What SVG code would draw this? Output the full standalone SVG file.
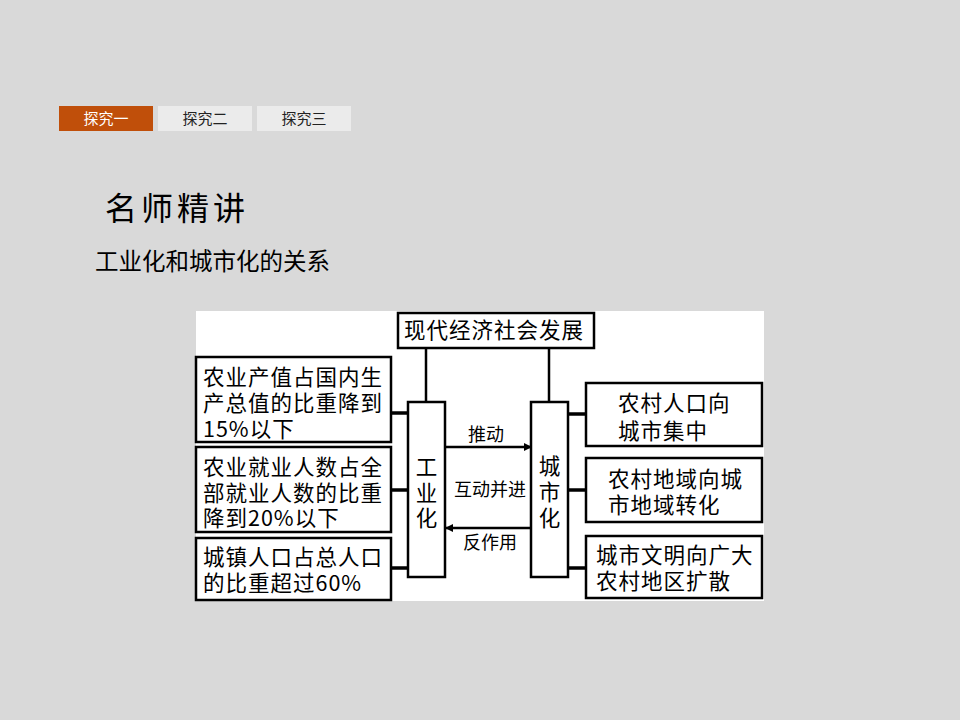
<svg xmlns="http://www.w3.org/2000/svg" width="960" height="720" viewBox="0 0 960 720">
<style>
.t{font-family:"Noto Sans CJK SC","Liberation Sans",sans-serif;fill:#000}
.bx{fill:#fff;stroke:#000;stroke-width:2.5}
.ln{stroke:#000;stroke-width:2.5;fill:none}
.st{stroke:#000;stroke-width:3.5;fill:none}
.tab{font-family:"Noto Sans CJK SC","Liberation Sans",sans-serif;font-size:15px;text-anchor:middle}
.bt{font-size:21.5px;letter-spacing:1px}
.vt{font-size:21.5px;text-anchor:middle}
.at{font-size:18px;text-anchor:middle}
</style>
<defs>
<marker id="ah" viewBox="0 0 10 10" refX="10" refY="5" markerWidth="10" markerHeight="8" markerUnits="userSpaceOnUse" orient="auto">
<path d="M0,0 L10,5 L0,10 Z" fill="#000"/>
</marker>
</defs>
<rect x="0" y="0" width="960" height="720" fill="#D9D9D9"/>
<g id="tabs">
<rect x="59" y="106" width="94" height="25" fill="#C04F0A"/>
<text class="tab" x="106" y="124" fill="#fff">探究一</text>
<rect x="158" y="106" width="94" height="25" fill="#EBEBEB"/>
<text class="tab" x="205" y="124" fill="#222">探究二</text>
<rect x="257" y="106" width="94" height="25" fill="#EBEBEB"/>
<text class="tab" x="304" y="124" fill="#222">探究三</text>
</g>
<text class="t" x="105" y="220" font-size="32" letter-spacing="4">名师精讲</text>
<text class="t" x="95" y="270" font-size="23.5">工业化和城市化的关系</text>
<rect x="196" y="311" width="568" height="290" fill="#fff"/>
<g id="connectors">
<line class="ln" x1="426" y1="348" x2="426" y2="402"/>
<line class="ln" x1="549" y1="348" x2="549" y2="402"/>
<line class="st" x1="391" y1="413" x2="408" y2="413"/>
<line class="st" x1="391" y1="490" x2="408" y2="490"/>
<line class="st" x1="391" y1="568" x2="408" y2="568"/>
<line class="st" x1="568" y1="414" x2="586" y2="414"/>
<line class="st" x1="568" y1="490" x2="586" y2="490"/>
<line class="st" x1="568" y1="568" x2="586" y2="568"/>
<line class="ln" x1="445" y1="447" x2="532" y2="447" stroke-width="2" marker-end="url(#ah)"/>
<line class="ln" x1="531" y1="528" x2="445" y2="528" stroke-width="2" marker-end="url(#ah)"/>
<text class="t at" x="486" y="441">推动</text>
<text class="t at" x="490" y="496">互动并进</text>
<text class="t at" x="490" y="549">反作用</text>
</g>
<g id="top">
<rect class="bx" x="398" y="313" width="196" height="35"/>
<text class="t bt" x="404" y="338">现代经济社会发展</text>
</g>
<g id="left1">
<rect class="bx" x="196" y="357" width="195" height="85"/>
<text class="t bt" x="203" y="385">农业产值占国内生</text>
<text class="t bt" x="203" y="411">产总值的比重降到</text>
<text class="t bt" x="203" y="437">15%以下</text>
</g>
<g id="left2">
<rect class="bx" x="196" y="447" width="195" height="85"/>
<text class="t bt" x="203" y="475">农业就业人数占全</text>
<text class="t bt" x="203" y="501">部就业人数的比重</text>
<text class="t bt" x="203" y="526">降到20%以下</text>
</g>
<g id="left3">
<rect class="bx" x="196" y="538" width="195" height="62"/>
<text class="t bt" x="203" y="565">城镇人口占总人口</text>
<text class="t bt" x="203" y="591">的比重超过60%</text>
</g>
<g id="industrial">
<rect class="bx" x="408" y="402" width="37" height="175"/>
<text class="t vt" x="426.5" y="475">工</text>
<text class="t vt" x="426.5" y="501">业</text>
<text class="t vt" x="426.5" y="526">化</text>
</g>
<g id="urban">
<rect class="bx" x="531" y="402" width="37" height="175"/>
<text class="t vt" x="549.5" y="474">城</text>
<text class="t vt" x="549.5" y="500">市</text>
<text class="t vt" x="549.5" y="526">化</text>
</g>
<g id="right1">
<rect class="bx" x="586" y="383" width="176" height="63"/>
<text class="t bt" x="618" y="411">农村人口向</text>
<text class="t bt" x="618" y="439">城市集中</text>
</g>
<g id="right2">
<rect class="bx" x="586" y="458" width="176" height="64"/>
<text class="t bt" x="608" y="487">农村地域向城</text>
<text class="t bt" x="608" y="513">市地域转化</text>
</g>
<g id="right3">
<rect class="bx" x="586" y="536" width="176" height="62"/>
<text class="t bt" x="596" y="563">城市文明向广大</text>
<text class="t bt" x="596" y="589">农村地区扩散</text>
</g>
</svg>
